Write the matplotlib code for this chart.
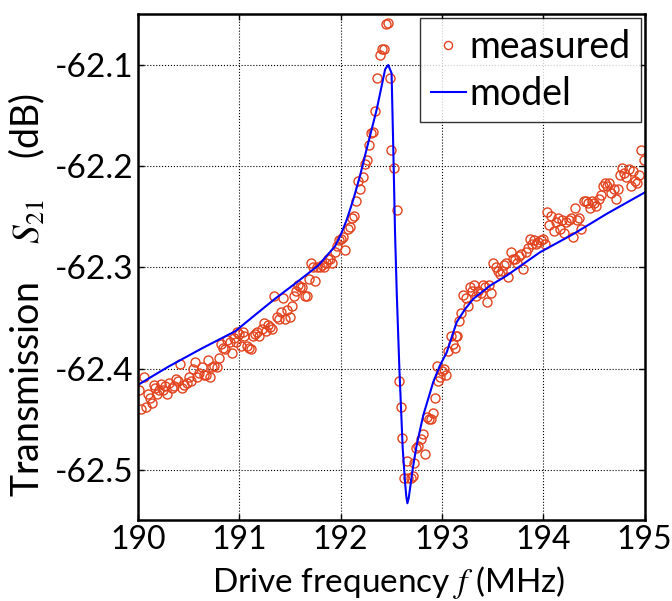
import matplotlib
matplotlib.use('Agg')
import matplotlib.pyplot as plt

# measured transmission
freq_meas = [
    190.013, 190.034, 190.055, 190.076, 190.097, 190.119, 190.140, 190.153, 190.169, 190.186,
    190.203, 190.225, 190.246, 190.267, 190.288, 190.309, 190.331, 190.352, 190.373, 190.394,
    190.415, 190.436, 190.458, 190.479, 190.500, 190.521, 190.542, 190.564, 190.585, 190.606,
    190.627, 190.648, 190.669, 190.691, 190.712, 190.733, 190.754, 190.775, 190.797, 190.818,
    190.839, 190.860, 190.881, 190.903, 190.924, 190.945, 190.966, 190.979, 191.000, 191.017,
    191.034, 191.051, 191.072, 191.093, 191.114, 191.136, 191.157, 191.178, 191.199, 191.220,
    191.242, 191.263, 191.284, 191.305, 191.326, 191.347, 191.369, 191.390, 191.411, 191.432,
    191.453, 191.475, 191.496, 191.517, 191.538, 191.559, 191.581, 191.602, 191.623, 191.644,
    191.665, 191.686, 191.708, 191.729, 191.750, 191.771, 191.792, 191.814, 191.835, 191.856,
    191.877, 191.898, 191.919, 191.941, 191.962, 191.983, 192.004, 192.025, 192.047, 192.068,
    192.089, 192.110, 192.131, 192.153, 192.174, 192.195, 192.216, 192.237, 192.258, 192.280,
    192.301, 192.322, 192.343, 192.364, 192.386, 192.407, 192.428, 192.449, 192.470, 192.492,
    192.500, 192.525, 192.555, 192.576, 192.597, 192.610, 192.627, 192.653, 192.669, 192.695,
    192.712, 192.725, 192.746, 192.767, 192.797, 192.818, 192.831, 192.852, 192.873, 192.894,
    192.915, 192.936, 192.949, 192.966, 192.983, 193.000, 193.021, 193.042, 193.064, 193.085,
    193.106, 193.127, 193.136, 193.148, 193.169, 193.191, 193.212, 193.233, 193.254, 193.275,
    193.297, 193.318, 193.339, 193.360, 193.381, 193.403, 193.424, 193.445, 193.466, 193.487,
    193.508, 193.530, 193.551, 193.572, 193.593, 193.614, 193.636, 193.657, 193.678, 193.699,
    193.720, 193.742, 193.763, 193.784, 193.805, 193.826, 193.847, 193.869, 193.890, 193.911,
    193.932, 193.953, 193.975, 193.996, 194.017, 194.038, 194.059, 194.081, 194.102, 194.123,
    194.144, 194.165, 194.186, 194.208, 194.229, 194.250, 194.271, 194.292, 194.314, 194.335,
    194.356, 194.377, 194.398, 194.419, 194.441, 194.462, 194.483, 194.504, 194.525, 194.547,
    194.568, 194.589, 194.610, 194.631, 194.653, 194.674, 194.695, 194.716, 194.737, 194.758,
    194.780, 194.801, 194.822, 194.843, 194.864, 194.886, 194.907, 194.928, 194.949, 194.970,
    194.992,
]
s21_meas = [
    -62.421, -62.440, -62.408, -62.438, -62.425, -62.429, -62.434, -62.416, -62.419, -62.425,
    -62.421, -62.415, -62.421, -62.417, -62.425, -62.414, -62.419, -62.417, -62.410, -62.412,
    -62.395, -62.419, -62.416, -62.414, -62.408, -62.412, -62.400, -62.393, -62.408, -62.404,
    -62.398, -62.406, -62.406, -62.391, -62.408, -62.398, -62.397, -62.398, -62.389, -62.376,
    -62.380, -62.381, -62.372, -62.374, -62.385, -62.370, -62.374, -62.364, -62.366, -62.378,
    -62.364, -62.368, -62.378, -62.380, -62.381, -62.368, -62.366, -62.364, -62.368, -62.361,
    -62.355, -62.363, -62.357, -62.359, -62.361, -62.328, -62.349, -62.351, -62.344, -62.330,
    -62.351, -62.342, -62.349, -62.338, -62.328, -62.323, -62.317, -62.319, -62.319, -62.328,
    -62.328, -62.311, -62.296, -62.300, -62.313, -62.300, -62.300, -62.298, -62.300, -62.296,
    -62.292, -62.292, -62.296, -62.285, -62.279, -62.273, -62.272, -62.270, -62.283, -62.262,
    -62.260, -62.251, -62.249, -62.234, -62.215, -62.222, -62.211, -62.198, -62.194, -62.179,
    -62.167, -62.166, -62.145, -62.113, -62.090, -62.084, -62.084, -62.059, -62.058, -62.113,
    -62.184, -62.202, -62.243, -62.412, -62.438, -62.469, -62.508, -62.491, -62.508, -62.508,
    -62.506, -62.493, -62.478, -62.476, -62.470, -62.465, -62.484, -62.448, -62.450, -62.450,
    -62.444, -62.429, -62.397, -62.412, -62.408, -62.402, -62.400, -62.406, -62.383, -62.368,
    -62.376, -62.380, -62.368, -62.368, -62.353, -62.345, -62.327, -62.330, -62.338, -62.319,
    -62.323, -62.317, -62.328, -62.323, -62.325, -62.317, -62.319, -62.334, -62.317, -62.325,
    -62.296, -62.300, -62.304, -62.306, -62.304, -62.298, -62.296, -62.309, -62.285, -62.292,
    -62.292, -62.296, -62.289, -62.287, -62.302, -62.285, -62.281, -62.272, -62.277, -62.273,
    -62.277, -62.275, -62.273, -62.272, -62.277, -62.245, -62.258, -62.249, -62.264, -62.255,
    -62.251, -62.262, -62.253, -62.266, -62.255, -62.253, -62.251, -62.270, -62.241, -62.253,
    -62.251, -62.262, -62.234, -62.234, -62.236, -62.241, -62.234, -62.236, -62.239, -62.232,
    -62.228, -62.220, -62.217, -62.220, -62.217, -62.226, -62.222, -62.232, -62.222, -62.209,
    -62.202, -62.207, -62.211, -62.203, -62.220, -62.205, -62.215, -62.217, -62.209, -62.184,
    -62.194,
]

# fitted model curve
freq_model = [190.0, 190.3, 190.63, 190.96, 191.155, 191.352, 191.55, 191.78, 191.945, 192.0,
              192.06, 192.125, 192.19, 192.257, 192.356, 192.44, 192.47, 192.503, 192.52,
              192.537, 192.554, 192.58, 192.613, 192.636, 192.648, 192.659, 192.672, 192.69,
              192.71, 192.75, 192.816, 192.915, 192.98, 193.047, 193.146, 193.23, 193.31,
              193.475, 193.64, 193.754, 193.968, 194.297, 194.627, 195.0]
s21_model = [-62.416, -62.398, -62.380, -62.363, -62.347, -62.331, -62.316, -62.298, -62.279,
             -62.268, -62.253, -62.233, -62.210, -62.183, -62.144, -62.104, -62.100, -62.108,
             -62.183, -62.265, -62.325, -62.400, -62.479, -62.512, -62.526, -62.533, -62.528,
             -62.515, -62.500, -62.476, -62.446, -62.413, -62.397, -62.384, -62.354, -62.341,
             -62.331, -62.318, -62.308, -62.300, -62.285, -62.267, -62.247, -62.226]

plt.rcParams['font.family'] = ['Lato', 'DejaVu Sans']
plt.rcParams['mathtext.fontset'] = 'stix'

fig = plt.figure(figsize=(6.72, 6.01), dpi=100)
ax = fig.add_axes([0.2054, 0.134, 0.7537, 0.842])

ax.plot(freq_meas, s21_meas, 'o', mfc='none', mec='#e2431e', mew=1.0, ms=6.5,
        label='measured')
ax.plot(freq_model, s21_model, color='#0000ff', lw=1.5, label='model')

ax.set_xlim(190, 195)
ax.set_ylim(-62.55, -62.05)
ax.set_xticks([190, 191, 192, 193, 194, 195])
ax.set_yticks([-62.5, -62.4, -62.3, -62.2, -62.1])
ax.set_yticklabels(['-62.5', '-62.4', '-62.3', '-62.2', '-62.1'])

ax.grid(True, color='black', linestyle=':', linewidth=0.8)
ax.tick_params(direction='in', top=True, right=True, length=4, width=1)
ax.tick_params(axis='y', labelsize=24)
ax.tick_params(axis='x', labelsize=23)
for sp in ax.spines.values():
    sp.set_linewidth(1.8)

ax.set_xlabel(r'Drive frequency $f$ (MHz)', fontsize=24)
ax.xaxis.set_label_coords(0.495, -0.086)
ax.xaxis.label.set_va('top')
ax.set_ylabel('Transmission    $S_{21}$    (dB)', fontsize=27)
ax.yaxis.set_label_coords(-0.18, 0.445)

leg = ax.legend(loc='upper right', fontsize=27, frameon=True, fancybox=False,
                edgecolor='black', handlelength=0.95, handletextpad=0.08,
                borderpad=0.28, labelspacing=0.3, borderaxespad=0.1,
                markerscale=0.9)
leg.get_frame().set_linewidth(1.0)

fig.savefig('out.png', dpi=100)
